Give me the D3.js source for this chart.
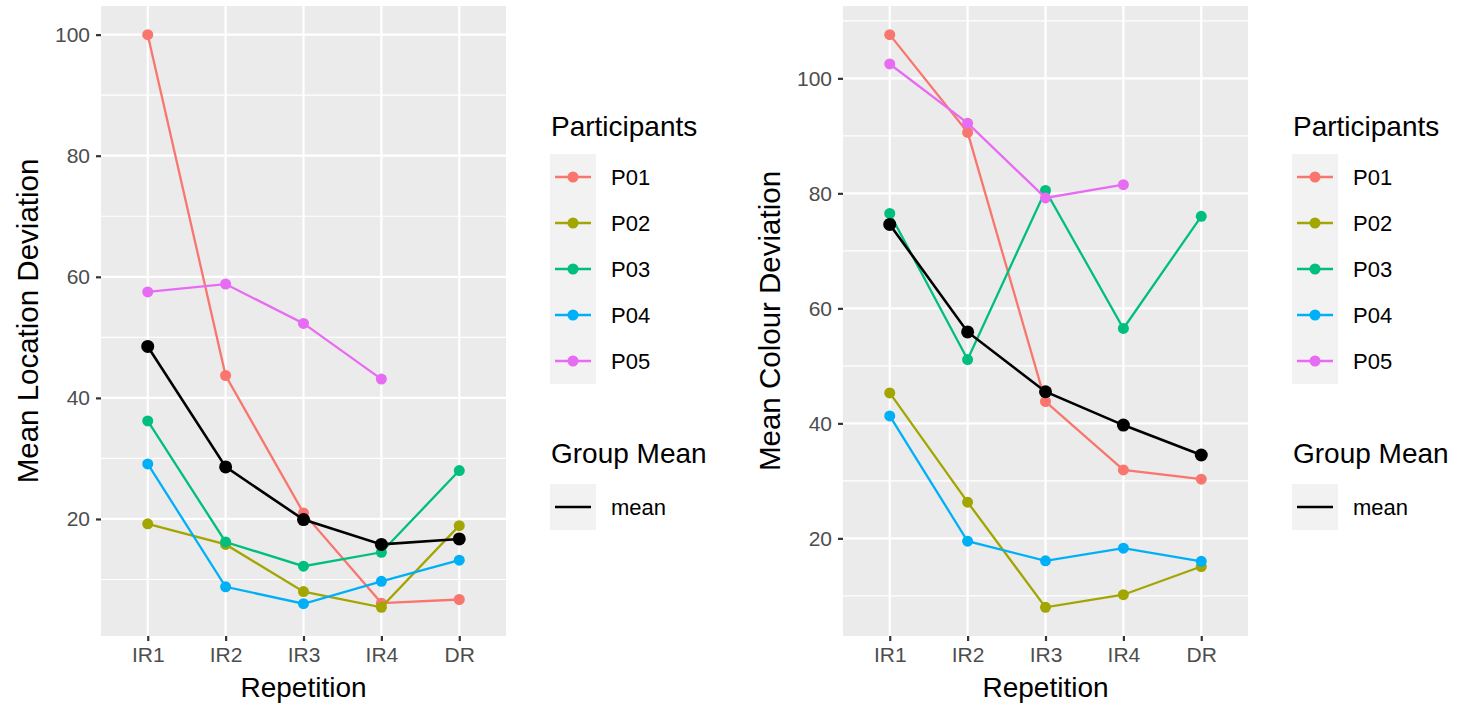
<!DOCTYPE html>
<html>
<head>
<meta charset="utf-8">
<script src="https://cdn.jsdelivr.net/npm/d3@7"></script>
<style>
  body { margin: 0; background: #fff; }
  svg { display: block; font-family: Arial, "Liberation Sans", sans-serif; }
</style>
</head>
<body>
<svg id="chart" width="1461" height="708"></svg>
<script>
// categories
var repetitions = ["IR1", "IR2", "IR3", "IR4", "DR"];
var participants = ["P01", "P02", "P03", "P04", "P05"];
var yTicks = [20, 40, 60, 80, 100];

// Mean Location Deviation (left panel), null = no value
var locP01 = [100.0, 43.7, 21.0, 6.1, 6.7];
var locP02 = [19.2, 15.8, 8.0, 5.4, 18.9];
var locP03 = [36.2, 16.2, 12.2, 14.5, 28.0];
var locP04 = [29.1, 8.8, 6.0, 9.7, 13.2];
var locP05 = [57.5, 58.8, 52.3, 43.1, null];
var locMean = [48.5, 28.6, 19.9, 15.8, 16.7];

// Mean Colour Deviation (right panel)
var colP01 = [107.6, 90.6, 43.8, 31.9, 30.3];
var colP02 = [45.3, 26.3, 8.0, 10.2, 15.1];
var colP03 = [76.5, 51.1, 80.5, 56.5, 76.0];
var colP04 = [41.3, 19.5, 16.1, 18.3, 16.0];
var colP05 = [102.5, 92.2, 79.2, 81.5, null];
var colMean = [74.6, 55.9, 45.5, 39.7, 34.5];

// ggplot default hue palette
var color = d3.scaleOrdinal()
  .domain(participants)
  .range(["#F8766D", "#A3A500", "#00BF7D", "#00B0F6", "#E76BF3"]);

var svg = d3.select("#chart");

function drawPanel(opts) {
  var left = opts.left, right = opts.left + 405, top = 6, bottom = 636;

  var all = d3.merge(opts.series.concat([opts.mean])).filter(function (v) { return v != null; });
  var ext = d3.extent(all);
  var pad = (ext[1] - ext[0]) * 0.05;

  var x = d3.scalePoint().domain(repetitions).range([left, right]).padding(0.6);
  var y = d3.scaleLinear().domain([ext[0] - pad, ext[1] + pad]).range([bottom, top]);

  var g = svg.append("g");

  // panel background
  g.append("rect")
    .attr("x", left).attr("y", top)
    .attr("width", right - left).attr("height", bottom - top)
    .attr("fill", "#EBEBEB");

  // minor grid
  var minor = d3.range(10, 130, 20).filter(function (v) { return v > y.domain()[0] && v < y.domain()[1]; });
  g.selectAll(".minor").data(minor).enter().append("line")
    .attr("x1", left).attr("x2", right)
    .attr("y1", function (d) { return y(d); }).attr("y2", function (d) { return y(d); })
    .attr("stroke", "#fff").attr("stroke-width", 1.2);

  // major grid
  g.selectAll(".hmajor").data(yTicks).enter().append("line")
    .attr("x1", left).attr("x2", right)
    .attr("y1", function (d) { return y(d); }).attr("y2", function (d) { return y(d); })
    .attr("stroke", "#fff").attr("stroke-width", 2.2);
  g.selectAll(".vmajor").data(repetitions).enter().append("line")
    .attr("y1", top).attr("y2", bottom)
    .attr("x1", function (d) { return x(d); }).attr("x2", function (d) { return x(d); })
    .attr("stroke", "#fff").attr("stroke-width", 2.2);

  // axes
  var xAxis = g.append("g")
    .attr("transform", "translate(0," + bottom + ")")
    .call(d3.axisBottom(x).tickSize(5).tickPadding(6));
  var yAxis = g.append("g")
    .attr("transform", "translate(" + left + ",0)")
    .call(d3.axisLeft(y).tickValues(yTicks).tickSize(5).tickPadding(6));
  [xAxis, yAxis].forEach(function (a) {
    a.select(".domain").remove();
    a.selectAll(".tick line").attr("stroke", "#333").attr("stroke-width", 2.2);
    a.selectAll(".tick text").attr("fill", "#4D4D4D").style("font-size", "21px");
  });

  var line = d3.line()
    .defined(function (d) { return d != null; })
    .x(function (d, i) { return x(repetitions[i]); })
    .y(function (d) { return y(d); });

  // participant lines and points
  opts.series.forEach(function (s, k) {
    var c = color(participants[k]);
    g.append("path").datum(s)
      .attr("d", line).attr("fill", "none")
      .attr("stroke", c).attr("stroke-width", 2.3);
    g.selectAll(".pt" + k)
      .data(s.map(function (v, i) { return { v: v, i: i }; }).filter(function (d) { return d.v != null; }))
      .enter().append("circle")
      .attr("cx", function (d) { return x(repetitions[d.i]); })
      .attr("cy", function (d) { return y(d.v); })
      .attr("r", 5.5).attr("fill", c);
  });

  // group mean
  g.append("path").datum(opts.mean)
    .attr("d", line).attr("fill", "none")
    .attr("stroke", "#000").attr("stroke-width", 2.6);
  g.selectAll(".mpt").data(opts.mean).enter().append("circle")
    .attr("cx", function (d, i) { return x(repetitions[i]); })
    .attr("cy", function (d) { return y(d); })
    .attr("r", 6.5).attr("fill", "#000");

  // axis titles
  g.append("text")
    .attr("x", (left + right) / 2).attr("y", 697)
    .attr("text-anchor", "middle").style("font-size", "28px")
    .text("Repetition");
  g.append("text")
    .attr("transform", "translate(" + (left - 63) + "," + ((top + bottom) / 2) + ") rotate(-90)")
    .attr("text-anchor", "middle").style("font-size", "29.5px")
    .text(opts.yTitle);

  // legend
  var lx = right + 44;
  var lg = svg.append("g").attr("transform", "translate(" + lx + ",0)");
  lg.append("text").attr("x", 1).attr("y", 136).style("font-size", "28px").text("Participants");
  lg.append("rect").attr("x", 0).attr("y", 154).attr("width", 46).attr("height", 230).attr("fill", "#F2F2F2");
  participants.forEach(function (p, k) {
    var cy = 177 + k * 46;
    lg.append("line").attr("x1", 5).attr("x2", 41).attr("y1", cy).attr("y2", cy)
      .attr("stroke", color(p)).attr("stroke-width", 2.3);
    lg.append("circle").attr("cx", 23).attr("cy", cy).attr("r", 5.5).attr("fill", color(p));
    lg.append("text").attr("x", 61).attr("y", cy + 8).style("font-size", "22px").text(p);
  });
  lg.append("text").attr("x", 1).attr("y", 463).style("font-size", "28px").text("Group Mean");
  lg.append("rect").attr("x", 0).attr("y", 484).attr("width", 46).attr("height", 46).attr("fill", "#F2F2F2");
  lg.append("line").attr("x1", 5).attr("x2", 41).attr("y1", 507).attr("y2", 507)
    .attr("stroke", "#000").attr("stroke-width", 2.6);
  lg.append("text").attr("x", 61).attr("y", 515).style("font-size", "22px").text("mean");
}

drawPanel({
  left: 101,
  series: [locP01, locP02, locP03, locP04, locP05],
  mean: locMean,
  yTitle: "Mean Location Deviation"
});
drawPanel({
  left: 843,
  series: [colP01, colP02, colP03, colP04, colP05],
  mean: colMean,
  yTitle: "Mean Colour Deviation"
});
</script>
</body>
</html>
